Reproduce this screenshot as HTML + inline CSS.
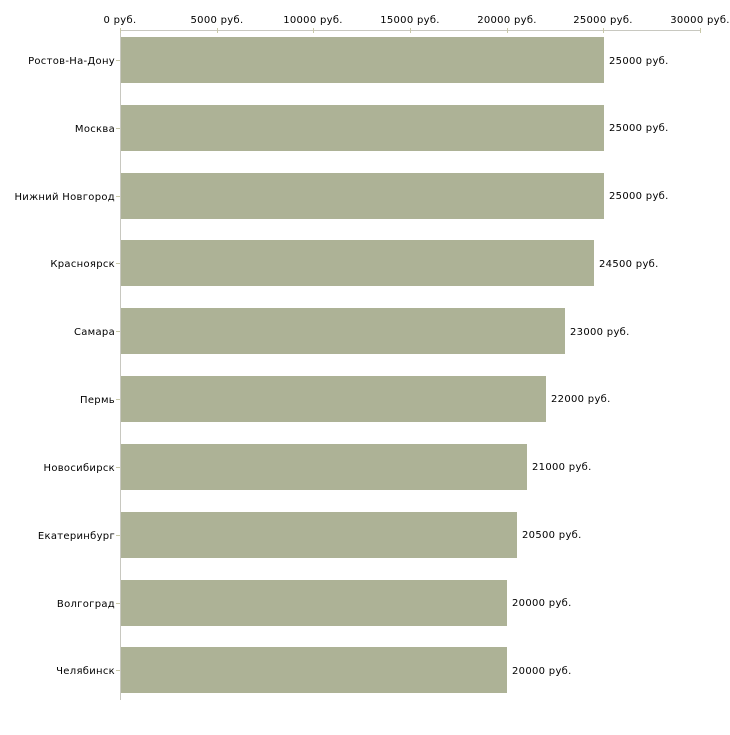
<!DOCTYPE html>
<html><head><meta charset="utf-8"><style>
html,body{margin:0;padding:0;background:#fff;}
svg text{font-family:"DejaVu Sans","Liberation Sans",sans-serif;font-size:10px;letter-spacing:0.3px;fill:#000;}
</style></head><body>
<svg width="730" height="730" xmlns="http://www.w3.org/2000/svg">
<line x1="120" y1="30.5" x2="701" y2="30.5" stroke="#c8c8c0" stroke-width="1"/>
<line x1="120.5" y1="30" x2="120.5" y2="700" stroke="#c8c8c0" stroke-width="1"/>
<g stroke="#c8c8a8" stroke-width="1">
<line x1="120.5" y1="28" x2="120.5" y2="33"/>
<line x1="217.5" y1="28" x2="217.5" y2="33"/>
<line x1="313.5" y1="28" x2="313.5" y2="33"/>
<line x1="410.5" y1="28" x2="410.5" y2="33"/>
<line x1="507.5" y1="28" x2="507.5" y2="33"/>
<line x1="603.5" y1="28" x2="603.5" y2="33"/>
<line x1="700.5" y1="28" x2="700.5" y2="33"/>
</g>
<g text-anchor="middle">
<text x="120" y="23">0 руб.</text>
<text x="217" y="23">5000 руб.</text>
<text x="313" y="23">10000 руб.</text>
<text x="410" y="23">15000 руб.</text>
<text x="507" y="23">20000 руб.</text>
<text x="603" y="23">25000 руб.</text>
<text x="700" y="23">30000 руб.</text>
</g>
<g fill="#adb296">
<rect x="121" y="37" width="483" height="46"/>
<rect x="121" y="105" width="483" height="46"/>
<rect x="121" y="173" width="483" height="46"/>
<rect x="121" y="240" width="473" height="46"/>
<rect x="121" y="308" width="444" height="46"/>
<rect x="121" y="376" width="425" height="46"/>
<rect x="121" y="444" width="406" height="46"/>
<rect x="121" y="512" width="396" height="46"/>
<rect x="121" y="580" width="386" height="46"/>
<rect x="121" y="647" width="386" height="46"/>
</g>
<g stroke="#c8c8a8">
<line x1="116" y1="60.5" x2="120" y2="60.5"/>
<line x1="116" y1="128.5" x2="120" y2="128.5"/>
<line x1="116" y1="196.5" x2="120" y2="196.5"/>
<line x1="116" y1="263.5" x2="120" y2="263.5"/>
<line x1="116" y1="331.5" x2="120" y2="331.5"/>
<line x1="116" y1="399.5" x2="120" y2="399.5"/>
<line x1="116" y1="467.5" x2="120" y2="467.5"/>
<line x1="116" y1="535.5" x2="120" y2="535.5"/>
<line x1="116" y1="603.5" x2="120" y2="603.5"/>
<line x1="116" y1="670.5" x2="120" y2="670.5"/>
</g>
<g text-anchor="end">
<text x="115" y="64">Ростов-На-Дону</text>
<text x="115" y="132">Москва</text>
<text x="115" y="200">Нижний Новгород</text>
<text x="115" y="267">Красноярск</text>
<text x="115" y="335">Самара</text>
<text x="115" y="403">Пермь</text>
<text x="115" y="471">Новосибирск</text>
<text x="115" y="539">Екатеринбург</text>
<text x="115" y="607">Волгоград</text>
<text x="115" y="674">Челябинск</text>
</g>
<g>
<text x="609" y="64">25000 руб.</text>
<text x="609" y="131">25000 руб.</text>
<text x="609" y="199">25000 руб.</text>
<text x="599" y="267">24500 руб.</text>
<text x="570" y="335">23000 руб.</text>
<text x="551" y="402">22000 руб.</text>
<text x="532" y="470">21000 руб.</text>
<text x="522" y="538">20500 руб.</text>
<text x="512" y="606">20000 руб.</text>
<text x="512" y="674">20000 руб.</text>
</g>
</svg>
</body></html>
